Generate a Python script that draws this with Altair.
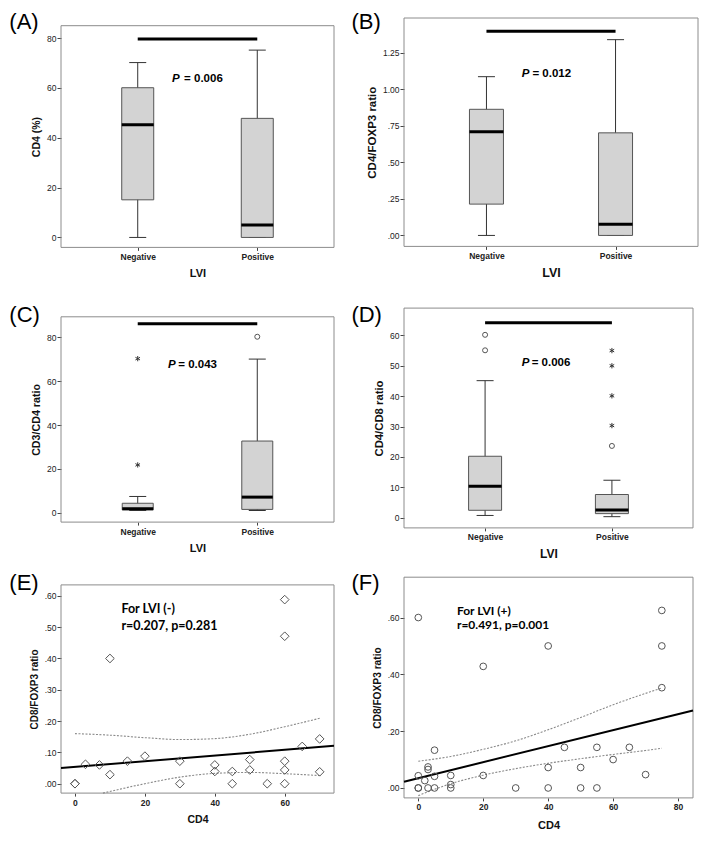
import altair as alt
import pandas as pd

# ---------------- data ----------------
categories = ["Negative", "Positive"]

# (A) CD4 (%) : [low whisker, Q1, median, Q3, high whisker] per category
a_low = [0.0, 0.0]
a_q1 = [15.1, 0.0]
a_med = [45.2, 5.0]
a_q3 = [60.1, 47.8]
a_high = [70.2, 75.2]
a_sig = 79.7
a_p = "0.006"

# (B) CD4/FOXP3 ratio
b_low = [0.0, 0.0]
b_q1 = [0.214, 0.0]
b_med = [0.708, 0.077]
b_q3 = [0.862, 0.701]
b_high = [1.085, 1.338]
b_sig = 1.395
b_p = "0.012"

# (C) CD3/CD4 ratio
c_low = [1.0, 1.0]
c_q1 = [1.3, 1.5]
c_med = [1.8, 7.1]
c_q3 = [4.3, 32.7]
c_high = [7.4, 70.1]
c_circle_cat = ["Positive"]
c_circle_val = [80.3]
c_star_cat = ["Negative", "Negative"]
c_star_val = [70.3, 21.8]
c_sig = 86.2
c_p = "0.043"

# (D) CD4/CD8 ratio
d_low = [0.7, 0.3]
d_q1 = [2.4, 1.3]
d_med = [10.3, 2.5]
d_q3 = [20.2, 7.6]
d_high = [45.1, 12.3]
d_circle_cat = ["Negative", "Negative", "Positive"]
d_circle_val = [60.2, 55.1, 23.6]
d_star_cat = ["Positive", "Positive", "Positive", "Positive"]
d_star_val = [30.3, 40.1, 50.0, 55.0]
d_sig = 64.2
d_p = "0.006"

# (E) LVI (-) scatter
e_cd4 = [0, 0, 3, 7, 10, 10, 15, 20, 30, 30, 40, 40, 45, 45, 50, 50, 55,
         60, 60, 60, 60, 60, 65, 70, 70]
e_ratio = [0, 0, .062, .060, .400, .029, .072, .088, .072, 0, .060, .039, .039, 0,
           .077, .044, 0, .588, .471, .072, .044, 0, .119, .143, .038]
e_fit_x = [-4.0, 74.1]
e_fit_y = [0.050, 0.121]
e_up_x = [0, 10, 20, 30, 40, 50, 60, 70]
e_up_y = [.160, .155, .147, .141, .144, .158, .182, .209]
e_lo_x = [8, 20, 30, 40, 50, 60, 70]
e_lo_y = [-.030, .000, .021, .033, .036, .032, .026]
e_text = ["For LVI (-)", "r=0.207, p=0.281"]

# (F) LVI (+) scatter
f_cd4 = [0, 0, 0, 0, 2, 3, 3, 3, 5, 5, 5, 10, 10, 10, 20, 20, 30, 40, 40, 40,
         45, 50, 50, 55, 55, 60, 65, 70, 75, 75, 75]
f_ratio = [.600, .043, 0, 0, .026, .074, .065, 0, .133, .041, 0, .044, .012, 0,
           .428, .044, 0, .500, .072, 0, .143, .072, 0, .143, 0, .100, .143, .047,
           .625, .500, .353]
f_fit_x = [-4.4, 84.6]
f_fit_y = [0.022, 0.273]
f_up_x = [0, 10, 20, 30, 40, 50, 60, 70, 75]
f_up_y = [.094, .111, .136, .166, .205, .248, .293, .333, .352]
f_lo_x = [0, 10, 20, 30, 40, 50, 60, 70, 75]
f_lo_y = [-.027, .015, .045, .068, .087, .103, .118, .132, .140]
f_text = ["For LVI (+)", "r=0.491, p=0.001"]

# ---------------- layout / style ----------------
FONT = "Liberation Sans"
ANNOT_FONT = "Lato"
STAR = "M0,-1L0,1M-0.87,-0.5L0.87,0.5M-0.87,0.5L0.87,-0.5"

KX, KY = 0.975, 0.968
ROW_TOP = [7, 280, 560]
ROW_BOT = [280, 560, 813]
COL_LEFT = [53, 405]
ROW_H = [round((b - t) * KY) for t, b in zip(ROW_TOP, ROW_BOT)]


def lx(ref, col):
    return round((ref - COL_LEFT[col]) * KX, 1)


def ly(ref, row):
    return round((ref - ROW_TOP[row]) * KY, 1)


def one():
    return pd.DataFrame({"k": [0]})


def frame(W, top, bot):
    return alt.Chart(one()).mark_rect(fill="white", fillOpacity=0, stroke="#8c8c8c",
                                      strokeWidth=1).encode(
        x=alt.value(0), x2=alt.value(W), y=alt.value(top), y2=alt.value(bot))


def label(text, x, y, size, font=FONT, weight="normal", style="normal", baseline="middle"):
    return alt.Chart(one()).mark_text(text=text, align="left", baseline=baseline,
                                      fontSize=size, font=font, fontWeight=weight,
                                      fontStyle=style, color="#000").encode(
        x=alt.value(x), y=alt.value(y))


RATIO_EXPR = ("datum.value < 1 ? substring(format(datum.value, '.2f'), 1) "
              ": format(datum.value, '.2f')")
CAT_EXPR = " : ".join(f"datum.value == {i + 1} ? '{c}'" for i, c in enumerate(categories[:-1])) \
    + f" : '{categories[-1]}'"


def yaxis(values, title, tsize, expr=None):
    kw = dict(values=values, title=title, domain=False, grid=False, ticks=True, tickSize=4,
              tickColor="#444", labelFont=FONT, labelFontSize=8.5, labelColor="#222",
              labelPadding=1, labelOverlap=False, labelFlush=False, titleFont=FONT,
              titleFontSize=tsize, titleFontWeight="bold", titleColor="#111", titlePadding=5)
    if expr:
        kw["labelExpr"] = expr
    else:
        kw["format"] = "d"
    return alt.Axis(**kw)


def xaxis(values, title, offset, tsize, tpad, expr=None):
    kw = dict(values=values, title=title, domain=False, grid=False, tickSize=3,
              tickColor="#444", labelFont=FONT, labelFontSize=8.5, labelFontWeight="bold",
              labelColor="#222", labelPadding=2, labelAngle=0, labelOverlap=False,
              labelFlush=False, titleFont=FONT, titleFontSize=tsize, titleFontWeight="bold",
              titleColor="#111", titlePadding=tpad, offset=offset)
    if expr:
        kw["labelExpr"] = expr
    else:
        kw["format"] = "d"
    return alt.Axis(**kw)


def box_panel(row, col, fx, fy, low, q1, med, q3, high, ydom, yvals, ytitle, ytsize,
              sig_y, pval, p_ref, letter, letter_ref, box_w, yexpr=None,
              circ=None, star=None, xtsize=11.5):
    W = round((fx[1] - fx[0]) * KX)
    H = ROW_H[row]
    top, bot = ly(fy[0], row), ly(fy[1], row)
    pos = [i + 1 for i in range(len(categories))]
    df = pd.DataFrame({"x": pos, "cat": categories, "low": low, "q1": q1, "med": med,
                       "q3": q3, "high": high})
    xs = alt.Scale(domain=[0.4, 2.6], nice=False, zero=False)
    ys = alt.Scale(domain=ydom, range=[bot, top], nice=False, zero=False)
    xax = xaxis(pos, "LVI", round(bot - H, 1), xtsize, 7, CAT_EXPR)
    yax = yaxis(yvals, ytitle, ytsize, yexpr)
    X = alt.X("x:Q", scale=xs, axis=xax)

    def Y(f):
        return alt.Y(f, scale=ys, axis=yax)

    base = alt.Chart(df)
    layers = [
        frame(W, top, bot),
        base.mark_rule(color="#333", strokeWidth=1, opacity=1).encode(
            x=X, y=Y("low:Q"), y2="high:Q"),
        base.mark_tick(orient="horizontal", size=17, thickness=1, color="#333",
                       opacity=1).encode(x=X, y=Y("low:Q")),
        base.mark_tick(orient="horizontal", size=17, thickness=1, color="#333",
                       opacity=1).encode(x=X, y=Y("high:Q")),
        base.mark_bar(size=box_w, fill="#d3d3d3", stroke="#555", strokeWidth=1,
                      opacity=1).encode(x=X, y=Y("q1:Q"), y2="q3:Q"),
        base.mark_tick(orient="horizontal", size=box_w, thickness=3, color="#000",
                       opacity=1).encode(x=X, y=Y("med:Q")),
    ]
    if circ:
        dc = pd.DataFrame({"x": [categories.index(c) + 1 for c in circ[0]], "v": circ[1]})
        layers.append(alt.Chart(dc).mark_point(shape="circle", filled=False, size=25,
                                               color="#555", strokeWidth=1,
                                               opacity=1).encode(x=X, y=Y("v:Q")))
    if star:
        dsr = pd.DataFrame({"x": [categories.index(c) + 1 for c in star[0]], "v": star[1]})
        layers.append(alt.Chart(dsr).mark_point(shape=STAR, filled=False, size=28,
                                                color="#333", strokeWidth=1,
                                                opacity=1).encode(x=X, y=Y("v:Q")))
    dsig = pd.DataFrame({"x1": [pos[0]], "x2": [pos[-1]], "y": [sig_y]})
    layers.append(alt.Chart(dsig).mark_rule(color="#000", strokeWidth=3, opacity=1).encode(
        x=alt.X("x1:Q", scale=xs, axis=xax), x2="x2:Q", y=Y("y:Q")))
    layers.append(label("P", lx(p_ref[0], col), ly(p_ref[2], row), 11.5, weight="bold",
                        style="italic"))
    layers.append(label("= " + pval, lx(p_ref[1], col), ly(p_ref[2], row), 11.5,
                        weight="bold"))
    layers.append(label(letter, lx(letter_ref[0], col), ly(letter_ref[1], row) + 1, 22,
                        baseline="top"))
    return alt.layer(*layers).properties(width=W, height=H)


def scatter_panel(row, col, fx, fy, xdom, xvals, ydom, yvals, px, py, shape, psize,
                  fit_x, fit_y, up_x, up_y, lo_x, lo_y, texts, t_ref, tsize, letter,
                  letter_ref, ytsize, xtsize, xtpad):
    W = round((fx[1] - fx[0]) * KX)
    H = ROW_H[row]
    top, bot = ly(fy[0], row), ly(fy[1], row)
    xs = alt.Scale(domain=xdom, nice=False, zero=False)
    ys = alt.Scale(domain=ydom, range=[bot, top], nice=False, zero=False)
    xax = xaxis(xvals, "CD4", round(bot - H, 1), xtsize, xtpad)
    yax = yaxis(yvals, "CD8/FOXP3 ratio", ytsize, RATIO_EXPR)
    X = alt.X("x:Q", scale=xs, axis=xax)
    Y = alt.Y("y:Q", scale=ys, axis=yax)
    layers = [frame(W, top, bot)]
    for cx, cy in [(up_x, up_y), (lo_x, lo_y)]:
        layers.append(alt.Chart(pd.DataFrame({"x": cx, "y": cy})).mark_line(
            color="#8a8a8a", strokeWidth=1.1, strokeDash=[2, 1.5],
            interpolate="monotone").encode(x=X, y=Y))
    layers.append(alt.Chart(pd.DataFrame({"x": fit_x, "y": fit_y})).mark_line(
        color="#000", strokeWidth=2).encode(x=X, y=Y))
    layers.append(alt.Chart(pd.DataFrame({"x": px, "y": py})).mark_point(
        shape=shape, filled=False, size=psize, color="#555", strokeWidth=1,
        opacity=1).encode(x=X, y=Y))
    layers.append(label(texts[0], lx(t_ref[0], col), ly(t_ref[1], row), tsize,
                        font=ANNOT_FONT, weight="bold"))
    layers.append(label(texts[1], lx(t_ref[0], col), ly(t_ref[2], row), tsize,
                        font=ANNOT_FONT, weight="bold"))
    layers.append(label(letter, lx(letter_ref[0], col), ly(letter_ref[1], row) + 1, 22,
                        baseline="top"))
    return alt.layer(*layers).properties(width=W, height=H)


A = box_panel(0, 0, (53, 333), (15, 244), a_low, a_q1, a_med, a_q3, a_high,
              [-4.0, 85.0], [0, 20, 40, 60, 80], "CD4 (%)", 10.5, a_sig, a_p,
              (166.7, 179.3, 70), "(A)", (0, 0), 32, xtsize=11)
B = box_panel(0, 1, (405, 707), (7, 243), b_low, b_q1, b_med, b_q3, b_high,
              [-0.075, 1.486], [0, 0.25, 0.5, 0.75, 1.0, 1.25], "CD4/FOXP3 ratio", 11.5,
              b_sig, b_p, (525.7, 536.7, 65), "(B)", (351, 0), 34, yexpr=RATIO_EXPR,
              xtsize=12.5)
C = box_panel(1, 0, (53, 333), (316, 528), c_low, c_q1, c_med, c_q3, c_high,
              [-4.3, 89.4], [0, 20, 40, 60, 80], "CD3/CD4 ratio", 10.7, c_sig, c_p,
              (162.7, 173.3, 366), "(C)", (0, 303), 31,
              circ=(c_circle_cat, c_circle_val), star=(c_star_cat, c_star_val), xtsize=11)
D = box_panel(1, 1, (406, 702), (307, 534), d_low, d_q1, d_med, d_q3, d_high,
              [-3.4, 69.0], [0, 10, 20, 30, 40, 50, 60], "CD4/CD8 ratio", 11.3, d_sig, d_p,
              (525.7, 536, 363.3), "(D)", (351, 303), 33,
              circ=(d_circle_cat, d_circle_val), star=(d_star_cat, d_star_val), xtsize=12)
E = scatter_panel(2, 0, (53, 333), (593, 808), [-4.0, 74.1], [0, 20, 40, 60],
                  [-0.030, 0.635], [0, .1, .2, .3, .4, .5, .6], e_cd4, e_ratio, "diamond", 75,
                  e_fit_x, e_fit_y, e_up_x, e_up_y, e_lo_x, e_lo_y, e_text,
                  (115, 618.3, 635), 12.5, "(E)", (0, 580), 10, 10.5, 8)
F = scatter_panel(2, 1, (406, 702), (585, 813), [-4.4, 84.6], [0, 20, 40, 60, 80],
                  [-0.035, 0.742], [0, .2, .4, .6], f_cd4, f_ratio, "circle", 45,
                  f_fit_x, f_fit_y, f_up_x, f_up_y, f_lo_x, f_lo_y, f_text,
                  (459.3, 619.5, 634.5), 12, "(F)", (351, 580), 10.2, 11, 8)

col_gap = round(lx(COL_LEFT[1], 0) - round((333 - 53) * KX))

chart = alt.concat(A, B, C, D, E, F, columns=2, bounds="flush", align="each",
                   spacing={"row": 0, "column": col_gap}).properties(
    padding={"top": 3, "left": 1, "right": 1, "bottom": 2},
    background="white").configure_view(strokeWidth=0)

chart.save("out.html", embed_options={"renderer": "svg", "actions": False})
